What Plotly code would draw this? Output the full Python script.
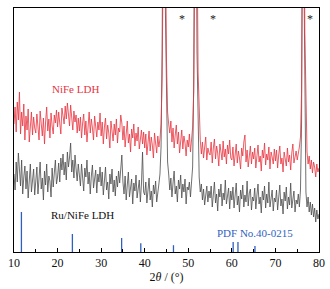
import numpy as np
import plotly.graph_objects as go

# 2theta grid (degrees), 0.25 deg step
two_theta_start, two_theta_end, two_theta_step = 10.0, 80.0, 0.25

# NiFe LDH intensity (a.u.)
nife_ldh = [
    128, 145, 120, 150, 132, 160, 118, 140, 126, 148, 112, 136, 122, 143, 110, 131, 140, 117, 135, 124,
    119, 138, 125, 112, 141, 128, 116, 134, 108, 130, 145, 121, 133, 114, 139, 126, 118, 137, 129, 142,
    125, 140, 131, 118, 144, 136, 128, 146, 133, 149, 138, 126, 147, 135, 122, 141, 130, 137, 119, 134,
    121, 135, 114, 129, 138, 117, 131, 110, 126, 140, 119, 133, 124, 112, 136, 127, 115, 130, 122, 139,
    116, 130, 108, 125, 134, 113, 127, 119, 104, 131, 122, 111, 128, 117, 133, 109, 124, 120, 137, 129,
    112, 126, 105, 120, 131, 109, 118, 100, 123, 114, 128, 106, 119, 111, 125, 103, 116, 122, 108, 120,
    104, 118, 97, 112, 121, 101, 115, 107, 94, 119, 109, 99, 116, 105, 113, 128, 175, 320, 420, 330,
    190, 140, 128, 119, 131, 110, 124, 104, 117, 127, 108, 120, 99, 114, 122, 103, 116, 109, 96, 112,
    105, 118, 100, 112, 125, 160, 300, 420, 330, 180, 130, 112, 98, 110, 94, 106, 115, 92, 104, 99,
    97, 110, 89, 104, 113, 93, 106, 99, 86, 108, 101, 92, 111, 95, 103, 88, 107, 98, 112, 94,
    92, 105, 86, 99, 108, 89, 101, 94, 83, 104, 96, 110, 117, 90, 102, 85, 98, 106, 88, 100,
    93, 104, 84, 99, 107, 90, 96, 81, 102, 94, 109, 87, 98, 92, 105, 83, 100, 95, 88, 103,
    91, 102, 84, 97, 106, 88, 94, 80, 100, 93, 86, 104, 90, 97, 82, 99, 108, 89, 95, 101,
    92, 98, 105, 115, 160, 330, 420, 220, 130, 100, 88, 96, 83, 92, 79, 90, 85, 75, 88, 80,
    84,
]

# Ru/NiFe LDH intensity (a.u.)
ru_nife_ldh = [
    78, 62, 90, 70, 99, 84, 66, 92, 58, 75, 86, 63, 81, 54, 77, 88, 60, 73, 83, 57,
    69, 85, 58, 77, 90, 63, 74, 52, 81, 67, 88, 60, 76, 71, 55, 84, 65, 79, 92, 68,
    75, 89, 70, 94, 82, 98, 77, 90, 72, 100, 85, 95, 109, 80, 92, 74, 97, 83, 71, 88,
    79, 66, 88, 72, 61, 84, 75, 92, 68, 80, 58, 76, 87, 64, 73, 82, 59, 78, 70, 85,
    66, 80, 57, 74, 85, 62, 70, 53, 78, 68, 83, 60, 72, 56, 76, 65, 81, 69, 88, 97,
    70, 58, 76, 52, 67, 80, 55, 63, 73, 48, 69, 61, 77, 54, 65, 72, 50, 68, 100, 60,
    57, 70, 49, 64, 74, 52, 61, 45, 67, 58, 71, 50, 63, 68, 78, 105, 200, 420, 400, 240,
    130, 90, 78, 62, 74, 55, 69, 81, 58, 66, 50, 72, 63, 77, 54, 68, 60, 73, 48, 65,
    62, 70, 55, 68, 85, 170, 420, 400, 200, 110, 75, 60, 68, 52, 63, 47, 59, 66, 50, 61,
    54, 66, 45, 60, 70, 49, 58, 41, 63, 55, 68, 46, 59, 52, 72, 48, 57, 64, 43, 61,
    52, 65, 44, 58, 69, 47, 56, 40, 62, 53, 67, 45, 57, 50, 71, 46, 59, 63, 42, 55,
    51, 64, 43, 57, 68, 48, 55, 39, 61, 52, 66, 44, 58, 49, 70, 45, 56, 62, 41, 54,
    50, 62, 42, 56, 67, 46, 53, 38, 60, 51, 65, 43, 55, 47, 69, 44, 54, 61, 40, 52,
    48, 58, 45, 62, 130, 420, 300, 120, 60, 45, 55, 40, 50, 37, 48, 35, 44, 30, 42, 33,
    38,
]

# Standard card PDF No.40-0215: positions (deg) and relative intensities (%)
pdf_positions = [11.7, 23.4, 34.7, 39.1, 46.6, 60.3, 61.4, 65.3]
pdf_intensities = [100, 45, 35, 22, 17, 25, 25, 15]

# Metal (Ni) reflections marked with *
star_positions = [48.6, 55.7, 77.9]

x_ticks = [10, 20, 30, 40, 50, 60, 70, 80]

n_points = int(round((two_theta_end - two_theta_start) / two_theta_step)) + 1
two_theta = np.linspace(two_theta_start, two_theta_end, n_points)

RED = "#e8343f"
GREY = "#4b4b4b"
BLUE = "#2f5fbf"
SERIF = "Liberation Serif"
Y_MAX = 244
PDF_SCALE = 0.4

fig = go.Figure()

fig.add_trace(go.Scatter(x=two_theta, y=ru_nife_ldh, mode="lines",
                         line=dict(color=GREY, width=0.8), showlegend=False))
fig.add_trace(go.Scatter(x=two_theta, y=nife_ldh, mode="lines",
                         line=dict(color=RED, width=0.8), showlegend=False))

px, py = [], []
for p, h in zip(pdf_positions, pdf_intensities):
    px += [p, p, None]
    py += [0, h * PDF_SCALE, None]
fig.add_trace(go.Scatter(x=px, y=py, mode="lines",
                         line=dict(color=BLUE, width=1.3), showlegend=False))

annotations = [
    dict(x=24.2, y=163, text="NiFe LDH", font=dict(color=RED, size=11, family=SERIF)),
    dict(x=25.7, y=37, text="Ru/NiFe LDH", font=dict(color="#111111", size=11, family=SERIF)),
    dict(x=65.4, y=19, text="PDF No.40-0215", font=dict(color=BLUE, size=11, family=SERIF)),
]
for s in star_positions:
    annotations.append(dict(x=s, y=233, text="*", font=dict(color="#222222", size=12, family=SERIF)))
for a in annotations:
    a.update(xref="x", yref="y", showarrow=False, xanchor="center", yanchor="middle")

fig.update_layout(
    width=330, height=289,
    margin=dict(l=14, r=11, t=8, b=37, autoexpand=False),
    paper_bgcolor="white", plot_bgcolor="white",
    annotations=annotations,
    hovermode=False,
    font=dict(family=SERIF, color="#111111"),
    xaxis=dict(
        range=[10, 80], tickvals=x_ticks, ticks="inside", ticklen=4, tickwidth=1,
        tickcolor="black", showline=True, linecolor="black", linewidth=1, mirror=True,
        showgrid=False, zeroline=False, automargin=False,
        tickfont=dict(size=12, family=SERIF, color="#111111"),
        minor=dict(dtick=5, ticks="inside", ticklen=3, tickcolor="black", showgrid=False),
        title=dict(text="2<i>θ</i> / (°)", font=dict(size=12, family=SERIF, color="#111111"), standoff=2),
    ),
    yaxis=dict(
        range=[0, Y_MAX], showticklabels=False, ticks="", showline=True, linecolor="black",
        linewidth=1, mirror=True, showgrid=False, zeroline=False, automargin=False,
    ),
)

fig.write_html("out.html", config={"displayModeBar": False, "staticPlot": True},
               post_script="document.body.style.margin='0';document.body.style.overflow='hidden';")
